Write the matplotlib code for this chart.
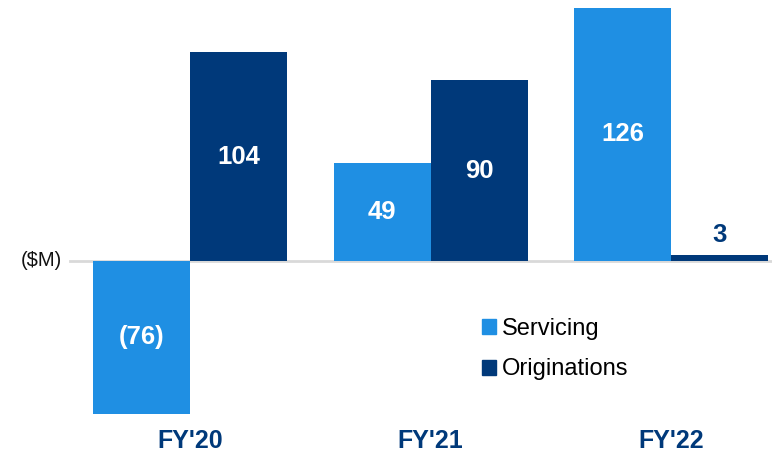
import matplotlib
matplotlib.use("Agg")
import matplotlib.pyplot as plt
from matplotlib.patches import Patch
import numpy as np

categories = ["FY'20", "FY'21", "FY'22"]
servicing = [-76, 49, 126]
originations = [104, 90, 3]
series_names = ["Servicing", "Originations"]

c_serv = "#1F8FE3"
c_orig = "#00397A"
navy_text = "#00397A"

plt.rcParams['font.family'] = ['Liberation Sans', 'DejaVu Sans']

W, H = 772, 462
fig = plt.figure(figsize=(W / 100, H / 100), dpi=100)
ax = fig.add_axes([0, 0, 1, 1])

# pixel mapping
zero_px = 261
ppu = 2.008
gap = 240.5
c0 = 190
ax.set_ylim(-(H - zero_px) / ppu, zero_px / ppu)
ax.set_xlim(-c0 / gap, (W - c0) / gap)
ax.axis('off')

x = np.arange(len(categories))
bw = 97 / gap

ax.axhline(0, xmin=70 / W, xmax=1, color="#D9D9D9", lw=2, zorder=1)
b1 = ax.bar(x - bw / 2, servicing, bw, color=c_serv, zorder=2)
b2 = ax.bar(x + bw / 2, originations, bw, color=c_orig, zorder=2)

def fmt(v):
    return f"({abs(v)})" if v < 0 else f"{v}"

for xs, vals in ((x - bw / 2, servicing), (x + bw / 2, originations)):
    for xi, v in zip(xs, vals):
        if abs(v) >= 20:
            ax.text(xi, v / 2, fmt(v), ha='center', va='center', color='white',
                    fontsize=18.5, fontweight='bold', zorder=3)
        else:
            ax.text(xi, v + 10, fmt(v), ha='center', va='center', color=navy_text,
                    fontsize=18.5, fontweight='bold', zorder=3)

for xi, c in zip(x, categories):
    ax.text(xi, (zero_px - 441) / ppu, c, ha='center', va='center', color=navy_text,
            fontsize=18, fontweight='bold')

ax.text(62 / gap - c0 / gap, 0, "($M)", ha='right', va='center', color='#111111', fontsize=14.5)

handles = [Patch(color=c_serv), Patch(color=c_orig)]
fig.legend(handles, series_names, loc='center left',
           bbox_to_anchor=(470 / W, 1 - 349 / H), frameon=False, fontsize=17,
           handlelength=0.6, handleheight=0.6, handletextpad=0.25, labelspacing=0.8,
           borderpad=0)

fig.savefig("out.png", dpi=100)
